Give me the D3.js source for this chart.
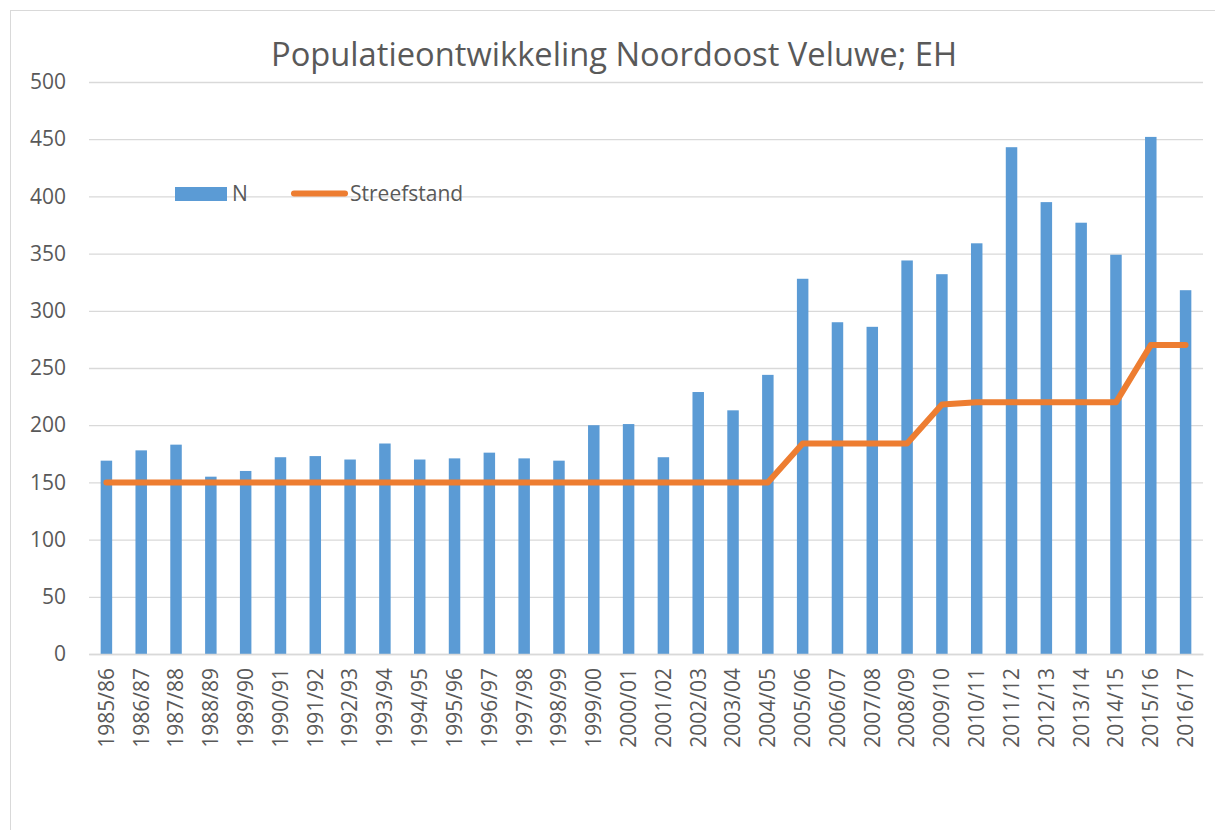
<!DOCTYPE html>
<html>
<head>
<meta charset="utf-8">
<script src="https://cdn.jsdelivr.net/npm/d3@7"></script>
<style>
	body { margin: 0; background: #fff; }
	text { font-family: 'Open Sans', sans-serif; fill: #595959; }
</style>
</head>
<body>
<svg id="chart" width="1215" height="830"></svg>
<script>
// Data
var seasons = ['1985/86', '1986/87', '1987/88', '1988/89', '1989/90', '1990/91', '1991/92', '1992/93',
	'1993/94', '1994/95', '1995/96', '1996/97', '1997/98', '1998/99', '1999/00', '2000/01',
	'2001/02', '2002/03', '2003/04', '2004/05', '2005/06', '2006/07', '2007/08', '2008/09',
	'2009/10', '2010/11', '2011/12', '2012/13', '2013/14', '2014/15', '2015/16', '2016/17'];
var countN = [169, 178, 183, 155, 160, 172, 173, 170, 184, 170, 171, 176, 171, 169, 200, 201,
	172, 229, 213, 244, 328, 290, 286, 344, 332, 359, 443, 395, 377, 349, 452, 318];
var streefstand = [150, 150, 150, 150, 150, 150, 150, 150, 150, 150, 150, 150, 150, 150, 150, 150,
	150, 150, 150, 150, 184, 184, 184, 184, 218, 220, 220, 220, 220, 220, 270, 270];
var yTicks = [0, 50, 100, 150, 200, 250, 300, 350, 400, 450, 500];
var legendItems = ['N', 'Streefstand'];

var attrs = {
	marginLeft: 89,
	marginRight: 12,
	marginTop: 82,
	plotBottom: 654,
	barColor: '#5B9BD5',
	lineColor: '#ED7D31',
	gridColor: '#D9D9D9',
	labelSize: 21
};

var svg = d3.select('#chart');
var width = +svg.attr('width');

// chart frame (only top and left edges show in the picture)
svg.append('rect')
	.attr('x', 10.5).attr('y', 10.5)
	.attr('width', 1300).attr('height', 900)
	.attr('fill', 'none')
	.attr('stroke', '#D9D9D9');

var x = d3.scaleBand()
	.domain(seasons)
	.range([attrs.marginLeft, width - attrs.marginRight])
	.paddingInner(0.67)
	.paddingOuter(0.335);

var y = d3.scaleLinear()
	.domain([0, 500])
	.range([attrs.plotBottom, attrs.marginTop]);

// gridlines + y labels
var yAxis = svg.append('g')
	.attr('transform', 'translate(' + attrs.marginLeft + ',0)')
	.call(d3.axisLeft(y).tickValues(yTicks).tickSize(-(width - attrs.marginRight - attrs.marginLeft)).tickPadding(23));
yAxis.select('.domain').remove();
yAxis.selectAll('line').attr('stroke', attrs.gridColor).attr('stroke-width', 1.3);
yAxis.selectAll('text').attr('font-size', attrs.labelSize).style('font-family', "'Open Sans', sans-serif").attr('fill', '#595959');

// bars
svg.append('g').selectAll('rect')
	.data(countN)
	.join('rect')
	.attr('x', (d, i) => x(seasons[i]))
	.attr('y', d => y(d))
	.attr('width', x.bandwidth())
	.attr('height', d => y(0) - y(d))
	.attr('fill', attrs.barColor);

// x axis baseline + labels
var xAxis = svg.append('g')
	.attr('transform', 'translate(0,' + attrs.plotBottom + ')')
	.call(d3.axisBottom(x).tickSize(0).tickPadding(0));
xAxis.select('.domain').attr('stroke', attrs.gridColor).attr('stroke-width', 1.5);
xAxis.selectAll('text')
	.attr('font-size', attrs.labelSize)
	.style('font-family', "'Open Sans', sans-serif")
	.attr('fill', '#595959')
	.attr('text-anchor', 'end')
	.attr('transform', 'rotate(-90)')
	.attr('x', -14)
	.attr('y', 0)
	.attr('dy', '0.35em');

// Streefstand line
var line = d3.line()
	.x((d, i) => x(seasons[i]) + x.bandwidth() / 2)
	.y(d => y(d));
svg.append('path')
	.datum(streefstand)
	.attr('d', line)
	.attr('fill', 'none')
	.attr('stroke', attrs.lineColor)
	.attr('stroke-width', 6)
	.attr('stroke-linecap', 'round')
	.attr('stroke-linejoin', 'round');

// title
svg.append('text')
	.attr('x', 614)
	.attr('y', 66)
	.attr('text-anchor', 'middle')
	.attr('font-size', 32.7)
	.text('Populatieontwikkeling Noordoost Veluwe; EH');

// legend
var legend = svg.append('g');
legend.append('rect')
	.attr('x', 175).attr('y', 187)
	.attr('width', 52).attr('height', 14)
	.attr('fill', attrs.barColor);
legend.append('text')
	.attr('x', 232).attr('y', 194).attr('dy', '0.35em')
	.attr('font-size', attrs.labelSize)
	.text(legendItems[0]);
legend.append('line')
	.attr('x1', 294).attr('x2', 345)
	.attr('y1', 193.5).attr('y2', 193.5)
	.attr('stroke', attrs.lineColor)
	.attr('stroke-width', 6)
	.attr('stroke-linecap', 'round');
legend.append('text')
	.attr('x', 350).attr('y', 194).attr('dy', '0.35em')
	.attr('font-size', attrs.labelSize)
	.text(legendItems[1]);
</script>
</body>
</html>
